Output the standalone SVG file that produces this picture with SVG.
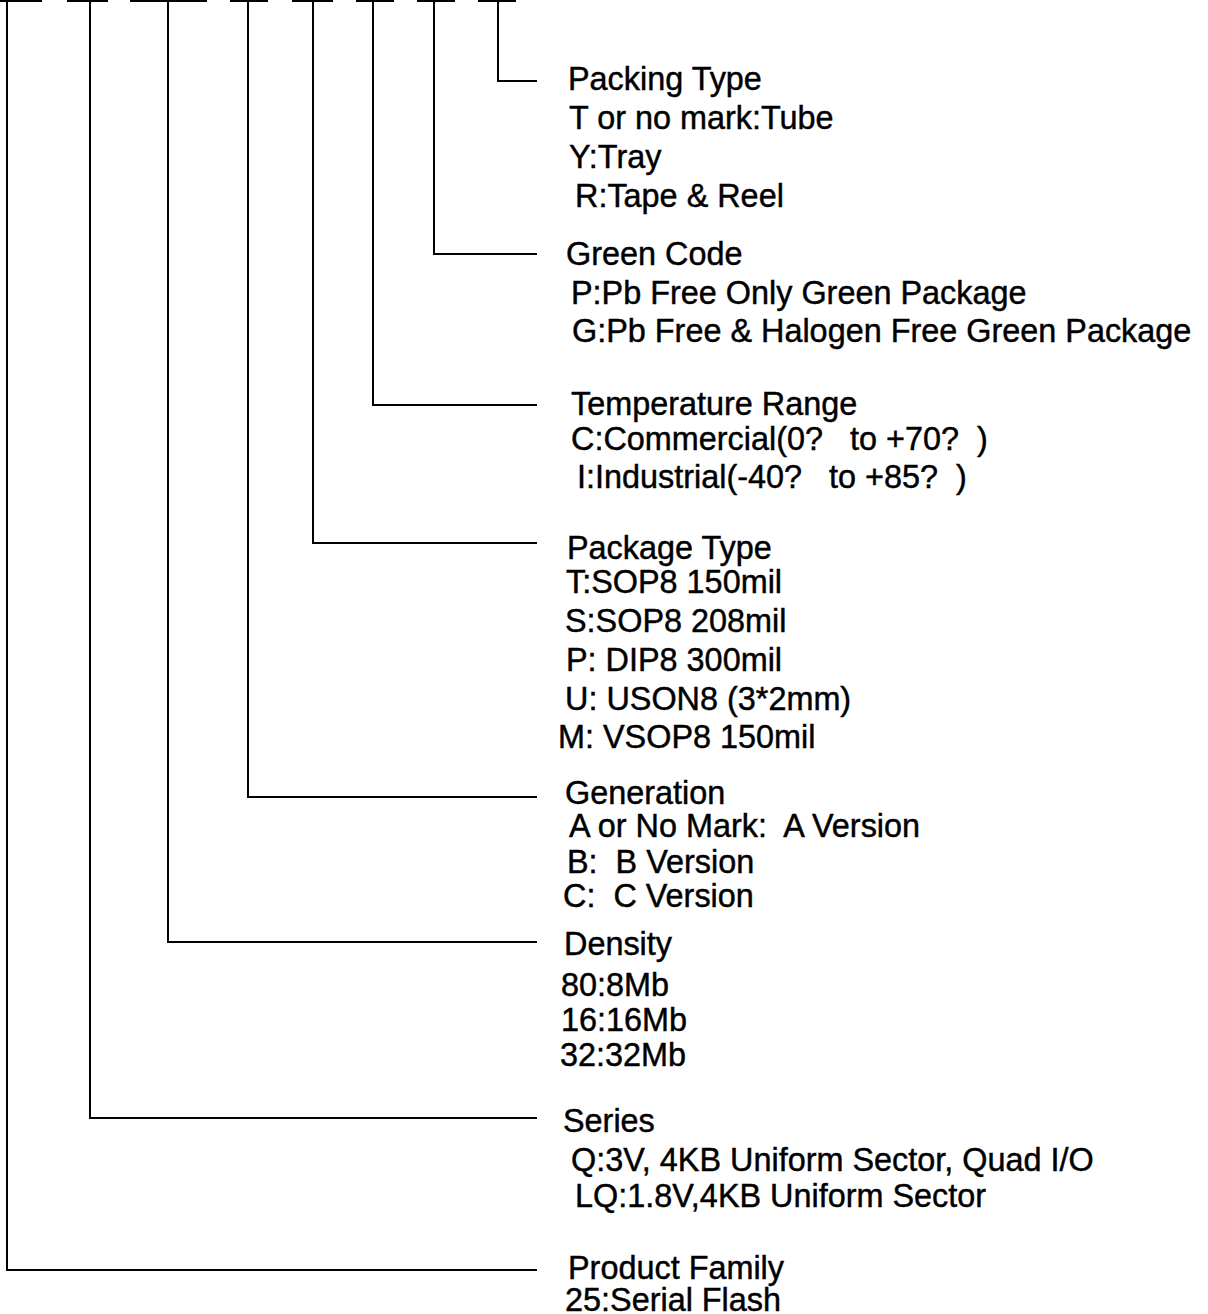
<svg xmlns="http://www.w3.org/2000/svg" width="1208" height="1314" viewBox="0 0 1208 1314">
<style>
text{font-family:"Liberation Sans",Arial,sans-serif;font-size:32.4px;fill:#000;stroke:#000;stroke-width:0.45px;white-space:pre}
.ln{stroke:#000;stroke-width:2;fill:none}
</style>
<rect width="1208" height="1314" fill="#fff"/>
<g id="connectors" class="ln">
<path d="M0,1H42M67,1H108M130,1H207M230,1H268M292,1H333M356,1H394M417,1H455M478,1H516"/>
<path d="M498,0V81H537"/>
<path d="M434,0V254H537"/>
<path d="M373,0V405H537"/>
<path d="M313,0V543H537"/>
<path d="M248,0V797H537"/>
<path d="M168,0V942H537"/>
<path d="M90,0V1118H537"/>
<path d="M7,0V1270H537"/>
</g>
<g id="packing"><text x="568" y="90">Packing Type</text><text x="569" y="129">T or no mark:Tube</text><text x="569" y="168">Y:Tray</text><text x="575" y="207">R:Tape &amp; Reel</text></g>
<g id="green"><text x="566" y="265">Green Code</text><text x="571" y="304">P:Pb Free Only Green Package</text><text x="572" y="342">G:Pb Free &amp; Halogen Free Green Package</text></g>
<g id="temperature"><text x="571" y="415">Temperature Range</text><text x="571" y="450">C:Commercial(0?   to +70?  )</text><text x="577" y="488">I:Industrial(-40?   to +85?  )</text></g>
<g id="package"><text x="567" y="559">Package Type</text><text x="566" y="593">T:SOP8 150mil</text><text x="565" y="632">S:SOP8 208mil</text><text x="566" y="671">P: DIP8 300mil</text><text x="565" y="710">U: USON8 (3*2mm)</text><text x="558" y="748">M: VSOP8 150mil</text></g>
<g id="generation"><text x="565" y="804">Generation</text><text x="569" y="837">A or No Mark:  A Version</text><text x="567" y="873">B:  B Version</text><text x="563" y="907">C:  C Version</text></g>
<g id="density"><text x="564" y="955">Density</text><text x="561" y="996">80:8Mb</text><text x="561" y="1031">16:16Mb</text><text x="560" y="1066">32:32Mb</text></g>
<g id="series"><text x="563" y="1132">Series</text><text x="571" y="1171">Q:3V, 4KB Uniform Sector, Quad I/O</text><text x="575" y="1207">LQ:1.8V,4KB Uniform Sector</text></g>
<g id="family"><text x="568" y="1279">Product Family</text><text x="565" y="1311">25:Serial Flash</text></g>
</svg>
